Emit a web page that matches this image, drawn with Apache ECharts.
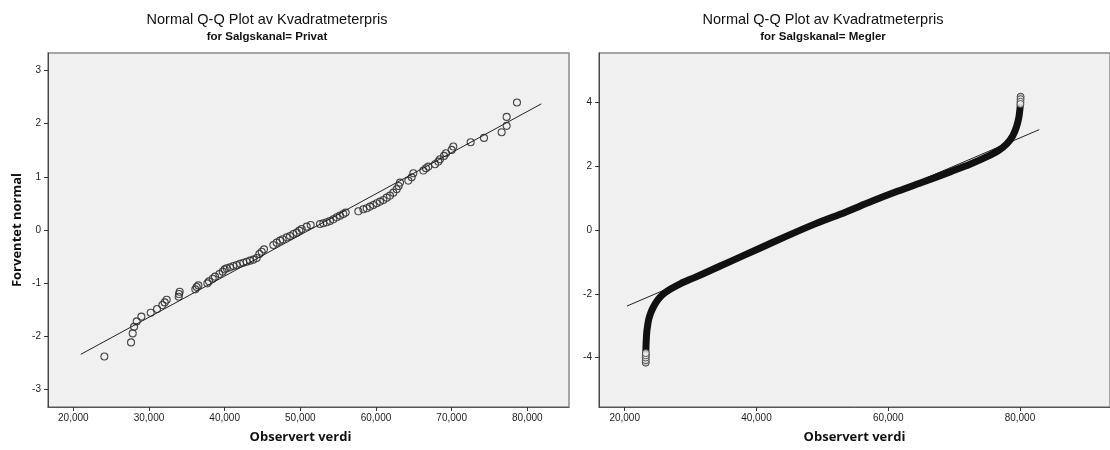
<!DOCTYPE html>
<html>
<head>
<meta charset="utf-8">
<script src="https://cdn.jsdelivr.net/npm/echarts@6/dist/echarts.min.js"></script>
<style>
html,body{margin:0;padding:0;background:#fff;}
#c{width:1110px;height:450px;}
</style>
</head>
<body>
<div id="c"></div>
<script>
// ---- Data ----
const mainTitle = 'Normal Q-Q Plot av Kvadratmeterpris';
const subTitles = ['for Salgskanal= Privat', 'for Salgskanal= Megler'];
const xName = 'Observert verdi';
const yName = 'Forventet normal';

const xTicksLeft = [20000, 30000, 40000, 50000, 60000, 70000, 80000];
const yTicksLeft = [-3, -2, -1, 0, 1, 2, 3];
const xTicksRight = [20000, 40000, 60000, 80000];
const yTicksRight = [-4, -2, 0, 2, 4];

// Privat: observed value / expected normal
const privatObs = [24101, 27625, 27845, 28021, 28374, 28990, 30224, 31061, 31765, 32074, 32338, 33924, 33968, 34056,
  36126, 36303, 36523, 37712, 37932, 38417, 38725, 39298, 39738, 40003, 40267, 40708, 41148, 41589, 42029, 42470,
  42910, 43351, 43791, 44232, 44585, 44893, 45201, 46434, 46875, 47315, 47668, 48196, 48637, 49077, 49518, 49870,
  50178, 50839, 51368, 52601, 53042, 53482, 53923, 54363, 54804, 55244, 55685, 55993, 57667, 58328, 58768, 59209,
  59649, 60090, 60530, 60971, 61411, 61852, 62292, 62733, 62997, 63173, 64274, 64715, 64935, 66257, 66609, 66917,
  67798, 68239, 68459, 68988, 69252, 70001, 70221, 72512, 74274, 76608, 77269, 77269, 78635];
const privatExp = [-2.38, -2.115, -1.945, -1.82, -1.72, -1.63, -1.556, -1.487, -1.412, -1.362, -1.311, -1.255, -1.205, -1.161,
  -1.117, -1.073, -1.042, -1.004, -0.966, -0.916, -0.878, -0.828, -0.784, -0.74, -0.721, -0.703, -0.678, -0.659, -0.634, -0.615,
  -0.596, -0.577, -0.558, -0.527, -0.452, -0.408, -0.364, -0.282, -0.238, -0.2, -0.175, -0.138, -0.113, -0.075, -0.05, -0.012,
  0.019, 0.063, 0.095, 0.113, 0.126, 0.145, 0.17, 0.201, 0.239, 0.27, 0.302, 0.327, 0.352, 0.39, 0.408, 0.44,
  0.471, 0.503, 0.534, 0.565, 0.609, 0.647, 0.703, 0.766, 0.829, 0.892, 0.929, 0.992, 1.068, 1.118, 1.162, 1.193,
  1.237, 1.287, 1.331, 1.394, 1.444, 1.507, 1.57, 1.651, 1.733, 1.84, 1.959, 2.128, 2.398];
const privatLineObs = [20973, 81850];
const privatLineExp = [-2.34, 2.373];

// Megler: dense band of observations, read along its centre
const meglerObs = [23190, 23190, 23200, 23210, 23240, 23290, 23350, 23480, 23650, 23950, 24400, 25000, 25800, 26900,
  28500, 30500, 33000, 36000, 40000, 44500, 49000, 53500, 57500, 61500, 65500, 69500, 72500, 75000, 76800, 78000,
  78900, 79500, 79850, 80000, 80080, 80100];
const meglerExp = [-4.16, -4.05, -3.95, -3.85, -3.6, -3.4, -3.2, -3.0, -2.8, -2.6, -2.4, -2.2, -2.02, -1.86,
  -1.68, -1.5, -1.27, -0.99, -0.62, -0.2, 0.2, 0.56, 0.9, 1.22, 1.52, 1.83, 2.07, 2.3, 2.5, 2.7,
  2.95, 3.25, 3.55, 3.8, 4.0, 4.18];
// individually visible circles at the tails
const meglerTailObs = [23190, 23190, 23195, 23200, 23205, 80100, 80090, 80080, 80070];
const meglerTailExp = [-4.16, -4.08, -4.0, -3.93, -3.86, 4.18, 4.1, 4.02, 3.95];
const meglerLineObs = [20349, 82932];
const meglerLineExp = [-2.384, 3.147];

const zip = (a, b) => a.map((v, i) => [v, b[i]]);

const labelFont = {fontFamily: 'Liberation Sans', fontSize: 10, color: '#222'};
const nameFont = {fontFamily: 'Open Sans', fontSize: 13, fontWeight: 'bold', color: '#111'};
const fmt = v => Number(v).toLocaleString('en-US');

function xAxis(idx, min, max, ticks, namePad) {
  return {
    type: 'value', gridIndex: idx, min: min, max: max,
    name: xName, nameLocation: 'middle', nameGap: 24,
    nameTextStyle: Object.assign({padding: namePad}, nameFont),
    axisLine: {show: true, onZero: false, lineStyle: {color: '#555', width: 1}},
    axisTick: {show: true, inside: false, length: 4, customValues: ticks, lineStyle: {color: '#333'}},
    axisLabel: Object.assign({customValues: ticks, margin: 6, formatter: fmt}, labelFont),
    splitLine: {show: false}
  };
}
function yAxis(idx, min, max, ticks, withName) {
  return {
    type: 'value', gridIndex: idx, min: min, max: max,
    name: withName ? yName : '', nameLocation: 'middle', nameGap: 24,
    nameTextStyle: nameFont,
    axisLine: {show: true, onZero: false, lineStyle: {color: '#444', width: 1}},
    axisTick: {show: true, inside: false, length: 4, customValues: ticks, lineStyle: {color: '#333'}},
    axisLabel: Object.assign({customValues: ticks, margin: 7}, labelFont),
    splitLine: {show: false}
  };
}

const titleStyle = {fontFamily: 'Liberation Sans', fontSize: 14.5, fontWeight: 'normal', color: '#111'};
const subStyle = {fontFamily: 'Liberation Sans', fontSize: 11.5, fontWeight: 'bold', color: '#111'};

const chart = echarts.init(document.getElementById('c'), null, {renderer: 'canvas'});
chart.setOption({
  animation: false,
  backgroundColor: '#ffffff',
  title: [
    {text: mainTitle, subtext: subTitles[0], left: 267, top: 12, textAlign: 'center', padding: 0, itemGap: 4,
     textStyle: titleStyle, subtextStyle: subStyle},
    {text: mainTitle, subtext: subTitles[1], left: 823, top: 12, textAlign: 'center', padding: 0, itemGap: 4,
     textStyle: titleStyle, subtextStyle: subStyle}
  ],
  grid: [
    {left: 48, top: 53, width: 521, height: 354, show: true, backgroundColor: '#f0f0f0', borderColor: '#8a8a8a', borderWidth: 1.5},
    {left: 599, top: 53, width: 511, height: 354, show: true, backgroundColor: '#f0f0f0', borderColor: '#8a8a8a', borderWidth: 1.5}
  ],
  xAxis: [
    xAxis(0, 16650, 85510, xTicksLeft, [0, 16, 0, 0]),
    xAxis(1, 16100, 93670, xTicksRight, [0, 0, 0, 0])
  ],
  yAxis: [
    yAxis(0, -3.33, 3.33, yTicksLeft, true),
    yAxis(1, -5.55, 5.55, yTicksRight, false)
  ],
  series: [
    {type: 'scatter', xAxisIndex: 0, yAxisIndex: 0, data: zip(privatObs, privatExp),
     symbol: 'circle', symbolSize: 7,
     itemStyle: {color: 'rgba(0,0,0,0)', borderColor: '#333', borderWidth: 1.1, opacity: 0.9}},
    {type: 'line', xAxisIndex: 0, yAxisIndex: 0, data: zip(privatLineObs, privatLineExp),
     symbol: 'none', lineStyle: {color: '#222', width: 1}, z: 3},
    {type: 'line', xAxisIndex: 1, yAxisIndex: 1, data: zip(meglerLineObs, meglerLineExp),
     symbol: 'none', lineStyle: {color: '#222', width: 1}, z: 1},
    {type: 'line', xAxisIndex: 1, yAxisIndex: 1, data: zip(meglerObs, meglerExp), smooth: 0.3,
     symbol: 'none', lineStyle: {color: '#111', width: 7, cap: 'round', join: 'round'}, z: 2},
    {type: 'scatter', xAxisIndex: 1, yAxisIndex: 1, data: zip(meglerTailObs, meglerTailExp),
     symbol: 'circle', symbolSize: 7,
     itemStyle: {color: '#f0f0f0', borderColor: '#333', borderWidth: 1}, z: 3}
  ]
});
</script>
</body>
</html>
